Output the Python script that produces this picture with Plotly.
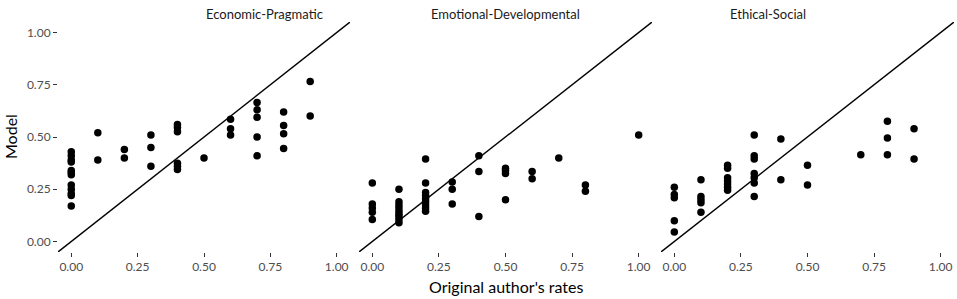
import plotly.graph_objects as go

panels = ["Economic-Pragmatic", "Emotional-Developmental", "Ethical-Social"]

econ_x = [0.0]*12 + [0.1]*2 + [0.2]*2 + [0.3]*3 + [0.4]*6 + [0.5] + [0.6]*3 + [0.7]*5 + [0.8]*4 + [0.9]*2
econ_y = [0.43, 0.41, 0.39, 0.38, 0.34, 0.33, 0.32, 0.27, 0.25, 0.23, 0.22, 0.17,
          0.52, 0.39,
          0.44, 0.40,
          0.51, 0.45, 0.36,
          0.56, 0.545, 0.525, 0.375, 0.36, 0.345,
          0.40,
          0.585, 0.54, 0.51,
          0.665, 0.63, 0.595, 0.50, 0.41,
          0.62, 0.555, 0.515, 0.445,
          0.765, 0.60]

emo_x = [0.0]*5 + [0.1]*9 + [0.2]*9 + [0.3]*3 + [0.4]*3 + [0.5]*4 + [0.6]*2 + [0.7] + [0.8]*2 + [1.0]
emo_y = [0.28, 0.18, 0.16, 0.14, 0.105,
         0.25, 0.19, 0.175, 0.16, 0.145, 0.13, 0.12, 0.105, 0.09,
         0.395, 0.28, 0.235, 0.22, 0.205, 0.19, 0.175, 0.16, 0.145,
         0.285, 0.25, 0.18,
         0.41, 0.335, 0.12,
         0.35, 0.34, 0.325, 0.20,
         0.335, 0.30,
         0.40,
         0.27, 0.24,
         0.51]

eth_x = [0.0]*5 + [0.1]*5 + [0.2]*7 + [0.3]*7 + [0.4]*2 + [0.5]*2 + [0.7] + [0.8]*3 + [0.9]*2
eth_y = [0.26, 0.225, 0.21, 0.10, 0.046,
         0.295, 0.215, 0.20, 0.185, 0.14,
         0.365, 0.35, 0.305, 0.29, 0.275, 0.26, 0.245,
         0.51, 0.41, 0.395, 0.325, 0.305, 0.28, 0.215,
         0.49, 0.295,
         0.365, 0.27,
         0.415,
         0.575, 0.495, 0.415,
         0.54, 0.395]

xs = [econ_x, emo_x, eth_x]
ys = [econ_y, emo_y, eth_y]

tick_vals = [0.0, 0.25, 0.5, 0.75, 1.0]
tick_text = ["0.00", "0.25", "0.50", "0.75", "1.00"]
axis_range = [-0.05, 1.05]

FONT = "Lato"
W, H = 957, 299
ML, MR, MT, MB = 58, 3, 22, 47
pw = W - ML - MR
domains = [(0.0, 292 / pw), ((359 - ML) / pw, (652 - ML) / pw), ((661 - ML) / pw, 1.0)]

fig = go.Figure()
for i in range(3):
    sfx = "" if i == 0 else str(i + 1)
    fig.add_trace(go.Scatter(x=axis_range, y=axis_range, mode="lines",
                             line=dict(color="black", width=1.4),
                             xaxis="x" + sfx, yaxis="y" + sfx, showlegend=False,
                             hoverinfo="skip"))
    fig.add_trace(go.Scatter(x=xs[i], y=ys[i], mode="markers",
                             marker=dict(color="black", size=7.5),
                             xaxis="x" + sfx, yaxis="y" + sfx, showlegend=False))
    xa = dict(domain=list(domains[i]), range=axis_range, tickvals=tick_vals, ticktext=tick_text,
              showgrid=False, zeroline=False, showline=False, ticks="outside", ticklen=4,
              tickwidth=1.2, tickcolor="#333333",
              tickfont=dict(family=FONT, size=12, color="#4d4d4d"), anchor="y" + sfx)
    ya = dict(domain=[0, 1], range=axis_range, tickvals=tick_vals, ticktext=tick_text,
              showgrid=False, zeroline=False, showline=False, anchor="x" + sfx,
              tickfont=dict(family=FONT, size=12, color="#4d4d4d"))
    if i == 0:
        ya.update(ticks="outside", ticklen=4, tickwidth=1.2, tickcolor="#333333")
    else:
        ya.update(showticklabels=False, ticks="")
    fig.layout["xaxis" + sfx] = xa
    fig.layout["yaxis" + sfx] = ya
    fig.add_annotation(text=panels[i], x=(domains[i][0] + domains[i][1]) / 2, y=1,
                       xref="paper", yref="paper", yshift=8, yanchor="middle",
                       showarrow=False, font=dict(family=FONT, size=13, color="#1a1a1a"))

fig.add_annotation(text="Original author's rates", x=(domains[0][0] + domains[2][1]) / 2, y=0,
                   xref="paper", yref="paper", yshift=-34, yanchor="middle", showarrow=False,
                   font=dict(family=FONT, size=16, color="black"))
fig.add_annotation(text="Model", x=0, y=0.5, xref="paper", yref="paper", xshift=-48,
                   textangle=-90, xanchor="center", showarrow=False,
                   font=dict(family=FONT, size=16, color="black"))

fig.update_layout(width=W, height=H, margin=dict(l=ML, r=MR, t=MT, b=MB),
                  paper_bgcolor="white", plot_bgcolor="white")
fig.write_html("out.html", config={"displayModeBar": False},
               post_script="document.body.style.margin='0px';")
